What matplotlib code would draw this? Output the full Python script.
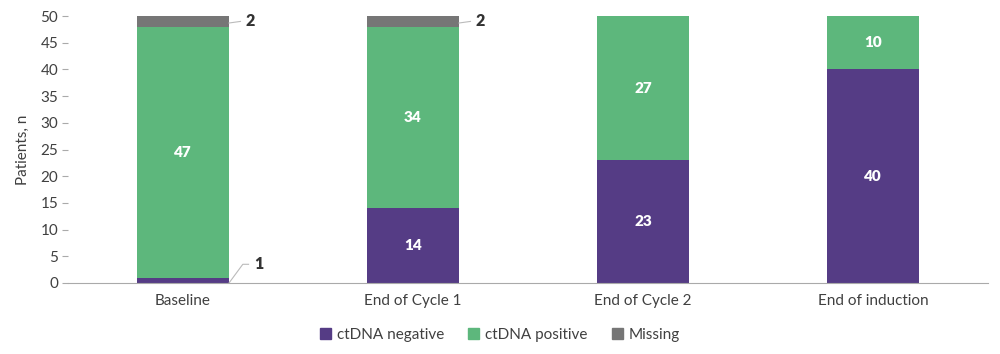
import numpy as np
import matplotlib.pyplot as plt
from matplotlib.patches import Patch

plt.rcParams['font.family'] = ['Lato', 'DejaVu Sans']

categories = ["Baseline", "End of Cycle 1", "End of Cycle 2", "End of induction"]
negative = [1, 14, 23, 40]
positive = [47, 34, 27, 10]
missing = [2, 2, 0, 0]

c_neg = "#553c85"
c_pos = "#5db77c"
c_mis = "#767676"
txt = "#404040"

fig = plt.figure(figsize=(10, 3.54), dpi=100)
ax = fig.add_axes([0.068, 0.2006, 0.92, 0.754])

x = np.arange(len(categories))
w = 0.4
neg = np.array(negative)
pos = np.array(positive)
mis = np.array(missing)
ax.bar(x, neg, w, color=c_neg, label="ctDNA negative")
ax.bar(x, pos, w, bottom=neg, color=c_pos, label="ctDNA positive")
ax.bar(x, mis, w, bottom=neg + pos, color=c_mis, label="Missing")

# labels inside bars
for i in range(len(x)):
    if neg[i] >= 5:
        ax.text(x[i], neg[i] / 2, str(neg[i]), ha="center", va="center",
                color="white", fontsize=11, fontweight="heavy")
    if pos[i] >= 5:
        ax.text(x[i], neg[i] + pos[i] / 2, str(pos[i]), ha="center", va="center",
                color="white", fontsize=11, fontweight="heavy")

# callouts for small segments
lc = "#bbbbbb"
for i in range(len(x)):
    if 0 < mis[i] < 5:
        y = neg[i] + pos[i] + mis[i] / 2
        ax.plot([x[i] + w / 2, x[i] + w / 2 + 0.05], [y - 0.3, y], color=lc, lw=0.8,
                clip_on=False)
        ax.text(x[i] + w / 2 + 0.07, y, str(mis[i]), ha="left", va="center",
                color="#333333", fontsize=11.5, fontweight="heavy")
    if 0 < neg[i] < 5:
        ax.plot([x[i] + w / 2, x[i] + w / 2 + 0.06, x[i] + w / 2 + 0.085],
                [0, 3.5, 3.5], color=lc, lw=0.8, clip_on=False)
        ax.text(x[i] + w / 2 + 0.11, 3.5, str(neg[i]), ha="left", va="center",
                color="#333333", fontsize=11.5, fontweight="heavy")

ax.set_xlim(-0.5, len(categories) - 0.5)
ax.set_ylim(0, 50)
ax.set_yticks(range(0, 51, 5))
ax.set_xticks(x)
ax.set_xticklabels(categories)
ax.tick_params(axis="x", length=0, pad=8, labelsize=11, labelcolor=txt)
ax.tick_params(axis="y", length=4, color="#aaaaaa", labelsize=11, labelcolor=txt, pad=3)
for s in ["top", "right", "left"]:
    ax.spines[s].set_visible(False)
ax.spines["bottom"].set_color("#aaaaaa")
ax.set_ylabel("Patients, n", fontsize=11, color=txt, labelpad=8)

handles = [Patch(color=c_neg, label="ctDNA negative"),
           Patch(color=c_pos, label="ctDNA positive"),
           Patch(color=c_mis, label="Missing")]
fig.legend(handles=handles, loc="center", bbox_to_anchor=(0.5, 0.055), ncol=3,
           frameon=False, fontsize=11, handlelength=0.7, handleheight=0.7,
           handletextpad=0.4, columnspacing=1.6, labelcolor=txt)

fig.savefig("out.png", dpi=100)
